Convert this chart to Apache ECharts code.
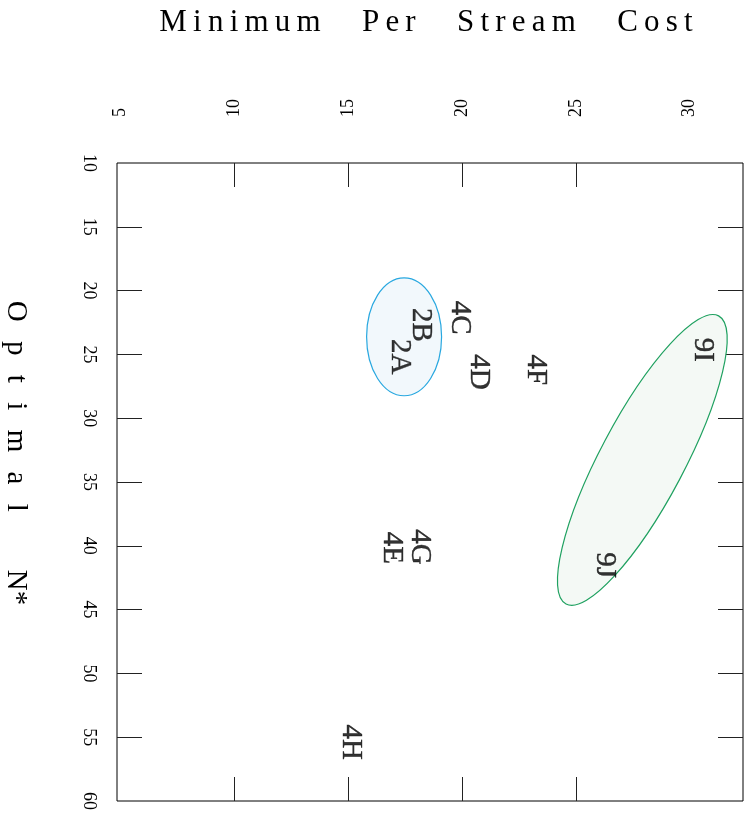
<!DOCTYPE html>
<html>
<head>
<meta charset="utf-8">
<script src="https://cdn.jsdelivr.net/npm/echarts@6/dist/echarts.min.js"></script>
<style>
  html, body { margin: 0; padding: 0; background: #ffffff; }
  #chart { width: 754px; height: 816px; }
</style>
</head>
<body>
<div id="chart"></div>
<script>
// Configurations: minimum per-stream cost vs. optimal N*
const pointNames    = ['2A', '2B', '4C', '4D', '4E', '4F', '4G', '4H', '9I', '9J'];
const perStreamCost = [17.28, 18.20, 19.91, 20.75, 16.93, 23.25, 18.16, 15.09, 30.57, 26.27];
const optimalN      = [25.19, 22.68, 22.13, 26.37, 40.17, 26.21, 40.09, 55.40, 24.65, 41.51];

// Cluster outlines: centre, tip of the major axis, minor/major ratio
const clusterCentreCost = [17.46, 27.92];
const clusterCentreN    = [23.62, 33.27];
const clusterTipCost    = [17.46, 31.27];
const clusterTipN       = [19.00, 21.98];
const clusterAxisRatio  = [0.636, 0.258];

// Axis ticks and labels
const costLabels = [5, 10, 15, 20, 25, 30];
const costTicks  = [10, 15, 20, 25];
const nLabels    = [10, 15, 20, 25, 30, 35, 40, 45, 50, 55, 60];
const nTicks     = [15, 20, 25, 30, 35, 40, 45, 50, 55];

const SERIF = "'Liberation Serif', 'Times New Roman', serif";
const clusterStroke = ['#29a8e0', '#1fa160'];
const clusterFill   = ['#f2f8fc', '#f4f9f5'];

const pointData = pointNames.map((n, i) => ({ name: n, value: [perStreamCost[i], optimalN[i]] }));
const clusterData = clusterCentreCost.map((c, i) =>
  [c, clusterCentreN[i], clusterTipCost[i], clusterTipN[i], clusterAxisRatio[i]]);

const chart = echarts.init(document.getElementById('chart'), null, { renderer: 'canvas' });

const tickStyle = { color: '#222', width: 1 };

chart.setOption({
  backgroundColor: '#ffffff',
  animation: false,
  grid: {
    left: 117, top: 163, right: 11, bottom: 15,
    containLabel: false, outerBoundsMode: 'none',
    show: true, borderColor: '#000', borderWidth: 1, backgroundColor: 'transparent'
  },
  xAxis: [
    {
      type: 'value', position: 'top', min: 4.855, max: 32.34,
      name: 'M\u2009i\u2009n\u2009i\u2009m\u2009u\u2009m\u2003\u2004P\u2009e\u2009r\u2003\u2004S\u2009t\u2009r\u2009e\u2009a\u2009m\u2003\u2004C\u2009o\u2009s\u2009t',
      nameLocation: 'middle', nameGap: 140,
      nameTextStyle: { fontFamily: SERIF, fontSize: 31, color: '#000', verticalAlign: 'middle', padding: [0, 8, 0, 0] },
      axisLine: { show: false },
      splitLine: { show: false },
      axisTick: { show: true, inside: true, length: 24, customValues: costTicks, lineStyle: tickStyle },
      axisLabel: {
        show: true, rotate: -90, margin: 46, customValues: costLabels,
        fontFamily: SERIF, fontSize: 18, color: '#000', padding: [0, 0, 14, 0]
      }
    },
    {
      type: 'value', position: 'bottom', min: 4.855, max: 32.34,
      axisLine: { show: false },
      splitLine: { show: false },
      axisTick: { show: true, inside: true, length: 24, customValues: costTicks, lineStyle: tickStyle },
      axisLabel: { show: false }
    }
  ],
  yAxis: [
    {
      type: 'value', position: 'left', min: 10, max: 60, inverse: true,
      name: 'O\u2002\u2006p\u2002\u2006t\u2002\u2006i\u2002\u2006m\u2002\u2006a\u2002\u2006l\u2003\u2003N*',
      nameLocation: 'middle', nameGap: 101, nameRotate: -90,
      nameTextStyle: { fontFamily: SERIF, fontSize: 29, color: '#000', verticalAlign: 'middle', padding: [0, 58, 0, 0] },
      axisLine: { show: false },
      splitLine: { show: false },
      axisTick: { show: true, inside: true, length: 25, customValues: nTicks, lineStyle: tickStyle },
      axisLabel: {
        show: true, rotate: -90, margin: 19, customValues: nLabels,
        fontFamily: SERIF, fontSize: 18, color: '#000'
      }
    },
    {
      type: 'value', position: 'right', min: 10, max: 60, inverse: true,
      axisLine: { show: false },
      splitLine: { show: false },
      axisTick: { show: true, inside: true, length: 25, customValues: nTicks, lineStyle: tickStyle },
      axisLabel: { show: false }
    }
  ],
  series: [
    {
      type: 'custom',
      xAxisIndex: 0, yAxisIndex: 0,
      z: 1,
      silent: true,
      encode: { x: [0, 2], y: [1, 3] },
      data: clusterData,
      renderItem: function (params, api) {
        const c = api.coord([api.value(0), api.value(1)]);
        const t = api.coord([api.value(2), api.value(3)]);
        const a = Math.hypot(t[0] - c[0], t[1] - c[1]);
        const phi = Math.atan2(t[1] - c[1], t[0] - c[0]);
        const i = params.dataIndex;
        return {
          type: 'ellipse',
          x: c[0], y: c[1],
          rotation: -phi,
          shape: { cx: 0, cy: 0, rx: a, ry: a * api.value(4) },
          style: { fill: clusterFill[i], stroke: clusterStroke[i], lineWidth: 1.2 }
        };
      }
    },
    {
      type: 'scatter',
      xAxisIndex: 0, yAxisIndex: 0,
      z: 3,
      symbolSize: 1,
      itemStyle: { color: 'rgba(0,0,0,0)' },
      data: pointData,
      label: {
        show: true, position: 'inside', rotate: -90,
        formatter: '{b}',
        fontFamily: SERIF, fontSize: 29, color: '#000',
        textBorderColor: '#000', textBorderWidth: 0.4,
        align: 'center', verticalAlign: 'middle'
      }
    }
  ]
});
</script>
</body>
</html>
